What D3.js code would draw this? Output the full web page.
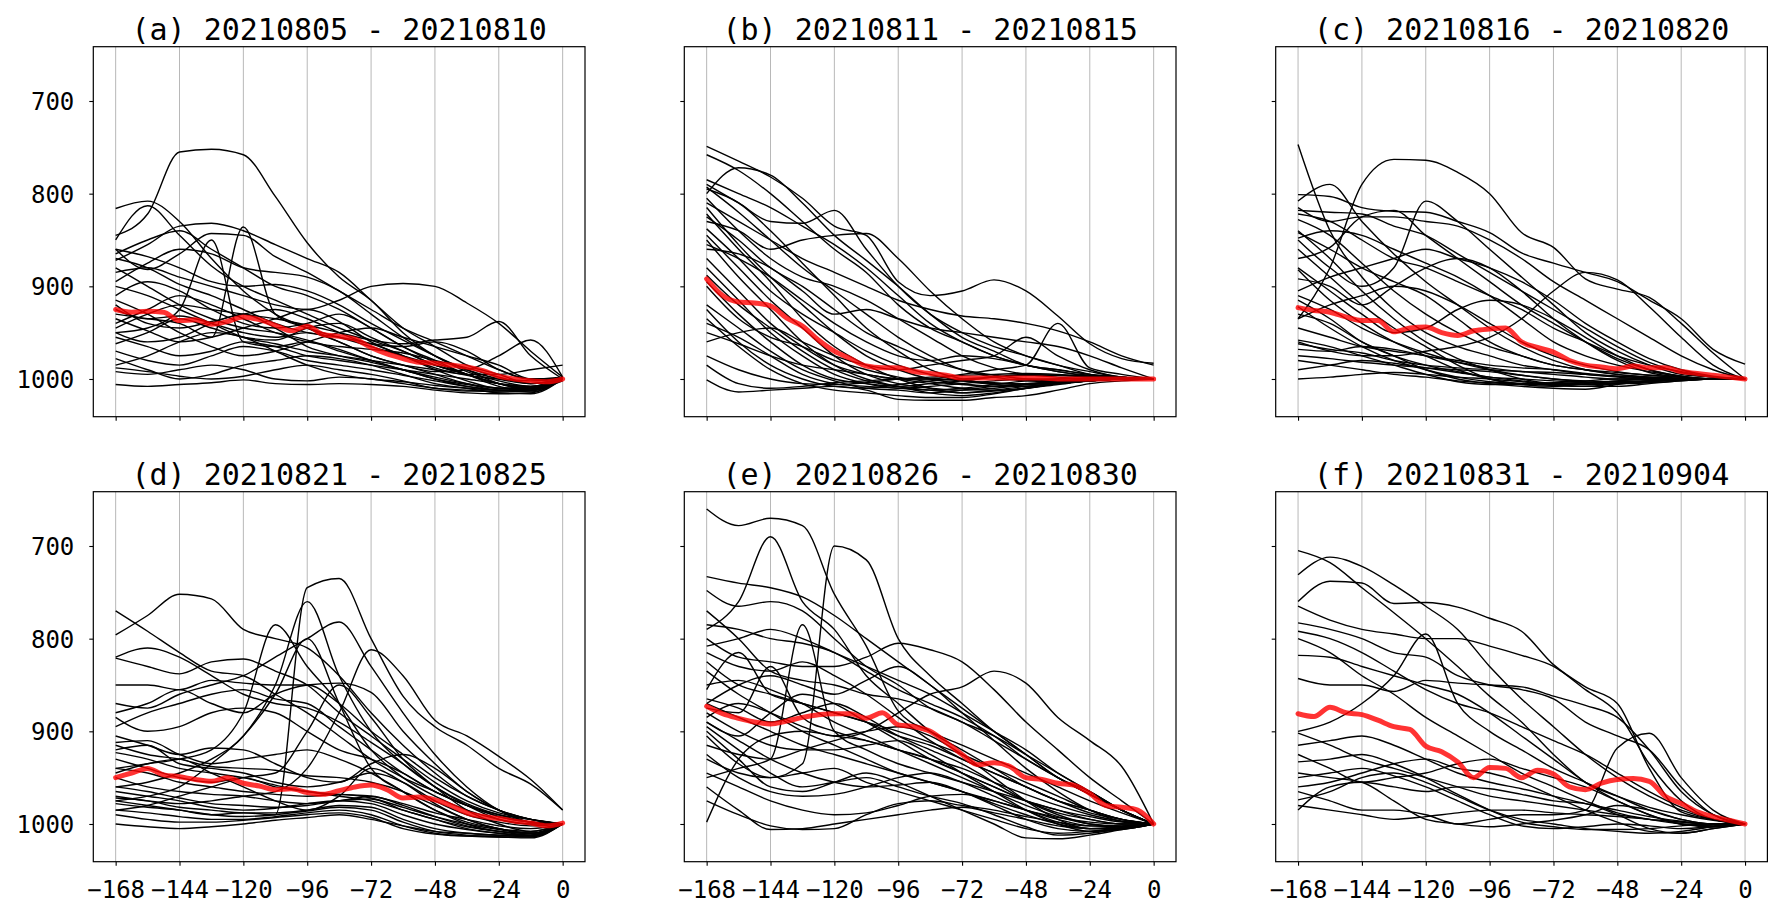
<!DOCTYPE html>
<html><head><meta charset="utf-8">
<script src="https://cdn.jsdelivr.net/npm/d3@7"></script>
<style>
body{margin:0;background:#fff}
svg{display:block}
text{font-family:"DejaVu Sans Mono",monospace;fill:#000}
</style>
</head><body>
<svg id="chart" width="1786" height="917"></svg>
<script>
// ---------- data ----------
const hours = d3.range(-168, 1, 12);      // black lines sampled every 12 h
const redHours = d3.range(-168, 1, 6);    // mean (red) line sampled every 6 h
const xTicks = [-168, -144, -120, -96, -72, -48, -24, 0];
const yTicks = [700, 800, 900, 1000];
const titles = ["(a) 20210805 - 20210810", "(b) 20210811 - 20210815", "(c) 20210816 - 20210820",
                "(d) 20210821 - 20210825", "(e) 20210826 - 20210830", "(f) 20210831 - 20210904"];

const linesA = [
[845,822,755,752,758,803,853,890,915,950,975,990,1005,1012,1000],
[816,808,830,870,905,930,945,960,975,985,995,1005,1012,1012,1000],
[850,813,845,878,900,915,930,945,958,970,985,995,1005,1010,1000],
[872,855,835,832,840,855,870,885,915,945,965,985,995,1005,1000],
[860,882,865,843,845,868,885,905,925,945,960,975,990,1000,1000],
[930,935,940,955,836,930,945,955,965,975,985,995,1005,1008,1000],
[950,945,925,850,960,965,960,970,980,990,998,1005,1010,1010,998],
[885,880,890,900,910,920,925,915,900,897,900,918,940,970,998],
[1006,1008,1006,1004,1001,1005,1006,1005,1006,1008,1012,1015,1016,1015,1000],
[988,992,997,1000,997,990,985,990,995,1002,1010,1012,1014,1013,1000],
[992,995,990,985,990,1000,1002,998,1000,1005,1010,1013,1013,1012,1002],
[870,880,898,910,925,940,950,955,962,975,990,1002,1010,1010,1000],
[880,900,920,935,945,950,958,968,980,990,1000,1008,1012,1012,1000],
[860,868,880,895,900,898,905,920,940,958,975,990,1000,1005,1000],
[895,875,860,865,880,885,890,905,930,955,975,992,1002,1008,1000],
[940,925,910,920,935,950,960,965,968,972,980,988,998,1005,1000],
[915,930,950,965,975,970,960,950,945,955,965,975,985,1000,998],
[920,940,945,938,930,925,935,950,962,965,960,970,990,1000,1000],
[955,965,975,970,960,965,975,980,985,990,995,1000,1005,1008,1000],
[962,950,935,945,955,958,945,940,955,970,985,995,1005,1010,1000],
[970,980,985,975,965,970,980,985,990,996,1002,1008,1012,1014,1000],
[978,990,1000,995,985,980,975,978,985,995,1005,1010,1015,1016,1000],
[900,910,925,940,955,962,970,975,980,985,990,995,995,990,985],
[935,948,960,955,945,935,925,938,960,975,988,996,1000,1002,1000],
[945,930,920,925,930,935,942,950,958,962,958,955,938,975,1000],
[925,935,932,940,950,955,950,960,975,985,992,990,975,958,998],
[865,850,840,860,880,900,910,925,945,965,980,995,1005,1010,1000],
[985,975,960,950,955,970,985,995,1000,1003,1007,1010,1012,1010,1000],
[910,895,905,925,940,945,940,930,945,965,982,995,1008,1012,1000],
[950,960,955,940,930,945,965,975,982,990,1000,1006,1010,1012,1000]
];
const redA = [925,928,927,928,937,936,941,938,933,936,942,948,943,952,954,957,966,973,978,982,983,985,987,991,997,1000,1002,1003,1000];

const linesB = [
[749,765,782,805,835,845,895,910,905,893,905,932,962,978,983],
[758,775,800,830,860,885,920,945,960,975,985,990,995,998,1000],
[800,772,780,810,845,872,900,930,955,970,985,990,995,998,1000],
[790,810,830,832,818,860,900,930,950,965,975,985,995,998,1000],
[830,840,860,850,845,843,870,905,935,960,975,985,992,998,1000],
[810,830,850,870,885,900,915,925,932,935,940,948,960,975,985],
[950,962,975,985,990,995,1000,1000,995,990,985,940,988,995,1000],
[960,950,945,960,975,985,990,985,980,975,955,975,990,998,1000],
[1001,1014,1012,1010,1008,1012,1022,1023,1023,1020,1018,1012,1005,1002,1000],
[785,800,815,835,855,880,910,940,960,975,985,992,997,1000,1000],
[793,820,850,880,905,930,955,975,990,998,1002,1003,1002,1000,1000],
[795,810,840,875,910,945,970,990,1000,1005,1005,1003,1000,1000,1000],
[805,840,870,890,900,915,935,955,975,988,995,998,1000,1000,1000],
[815,855,890,920,950,975,990,1000,1005,1008,1006,1003,1000,1000,1000],
[822,860,895,935,965,985,1000,1010,1015,1012,1008,1004,1001,1000,1000],
[825,850,880,900,925,950,965,980,990,996,1000,1002,1002,1000,1000],
[838,870,905,930,950,970,985,995,1002,1006,1008,1005,1002,1000,1000],
[845,880,915,945,975,995,1005,1010,1012,1010,1006,1003,1001,1000,1000],
[850,890,925,960,985,1000,1008,1015,1018,1015,1010,1005,1002,1000,1000],
[855,870,890,915,940,960,975,980,975,978,985,992,996,998,1000],
[870,905,940,965,985,995,1000,1005,1010,1012,1010,1006,1002,1000,1000],
[880,915,950,975,995,1005,1010,1008,1005,1002,1000,1000,1000,1000,1000],
[888,920,945,970,990,1002,1008,1012,1015,1013,1010,1005,1002,1000,1000],
[895,930,960,985,1000,1005,1008,1005,1002,998,995,996,998,1000,1000],
[900,935,955,965,980,990,998,1003,1006,1008,1008,1005,1002,1000,1000],
[920,945,970,990,1002,1010,1012,1015,1012,1008,1005,1003,1001,1000,1000],
[925,960,985,1000,1008,1010,1006,1002,1000,998,996,996,998,1000,1000],
[935,965,990,1005,1012,1015,1018,1020,1020,1016,1010,1005,1002,1000,1000],
[940,955,975,995,1005,1008,1010,1012,1010,1006,1002,1000,999,1000,1000],
[975,990,1000,1005,1006,1004,1000,998,996,995,994,995,997,999,1000],
[985,1005,1010,1008,1004,1002,1000,1000,1002,1004,1006,1004,1002,1000,1000],
[860,865,880,905,930,925,935,945,950,955,960,965,975,988,1000]
];
const redB = [892,910,917,918,921,934,943,958,970,978,986,988,988,992,994,996,999,999,999,999,999,999,1000,1000,1000,1000,1000,1000,1000];

const linesC = [
[747,840,890,925,950,965,975,985,990,995,998,1000,1000,1000,1000],
[935,880,790,763,764,777,800,842,858,892,903,912,940,972,1000],
[808,790,830,865,895,920,945,965,980,990,995,998,1000,1000,1000],
[801,803,815,819,820,830,842,864,875,885,895,915,935,968,984],
[850,880,900,880,808,830,860,890,920,950,970,985,995,998,1000],
[870,858,825,818,845,870,895,920,940,960,978,990,997,1000,1000],
[960,970,975,975,970,965,955,935,905,885,893,922,955,985,1000],
[815,830,825,825,830,835,850,870,895,915,935,955,975,990,1000],
[818,820,822,835,845,865,885,905,925,945,965,982,993,998,1000],
[822,830,850,870,880,895,910,925,945,960,975,985,992,998,1000],
[828,845,875,905,930,950,965,975,985,990,995,998,1000,1000,1000],
[840,870,905,935,960,978,990,1000,1005,1006,1005,1003,1001,1000,1000],
[842,860,880,895,910,935,960,975,985,990,993,996,998,1000,1000],
[848,840,845,860,875,890,910,935,960,975,985,992,997,1000,1000],
[860,890,920,945,965,985,1000,1005,1006,1004,1002,1000,1000,1000,1000],
[880,905,930,950,945,925,915,920,935,955,975,990,997,1000,1000],
[882,915,940,960,975,990,1000,1006,1008,1005,1002,1000,1000,1000,1000],
[892,900,920,900,880,870,880,905,935,960,980,993,998,1000,1000],
[910,925,945,960,972,982,990,996,1000,1002,1003,1002,1001,1000,1000],
[915,935,960,975,985,992,998,1000,1002,1004,1005,1004,1002,1000,1000],
[922,945,965,980,990,998,1003,1005,1007,1008,1008,1005,1002,1000,1000],
[930,940,960,975,990,1000,1005,1008,1010,1011,1006,1002,1001,1000,1000],
[945,955,965,970,975,982,988,992,995,998,1000,1000,1000,1000,1000],
[958,965,975,985,995,1003,1006,1006,1005,1004,1003,1002,1001,1000,1000],
[962,968,972,980,985,988,990,992,993,995,997,998,999,1000,1000],
[968,970,965,968,975,980,985,988,990,994,997,999,1000,1000,1000],
[975,978,982,985,988,990,992,996,1000,1003,1005,1003,1001,1000,1000],
[980,985,990,995,998,1002,1004,1005,1004,1002,1000,1000,1000,1000,1000],
[990,985,980,983,988,993,998,1002,1005,1006,1004,1002,1000,1000,1000],
[1000,998,995,993,995,998,1000,1003,1006,1008,1005,1002,1001,1000,1000],
[935,920,910,900,905,920,940,960,975,985,992,996,998,1000,1000],
[905,890,880,870,860,870,880,895,915,940,960,978,990,997,1000]
];
const redC = [923,926,928,933,937,937,949,945,944,950,953,948,946,945,960,966,971,980,985,987,989,986,988,988,992,994,996,998,1000];

const linesD = [
[975,980,985,990,988,990,745,735,800,862,895,915,940,957,985],
[960,955,945,930,905,850,760,840,900,935,960,978,990,998,1000],
[940,935,930,920,880,785,830,870,920,950,970,985,995,1000,1000],
[970,975,978,975,970,965,940,880,812,840,888,905,927,952,985],
[770,792,815,835,840,860,880,905,930,950,965,980,990,995,1000],
[796,775,752,757,790,800,810,840,880,915,945,970,985,995,1000],
[821,830,838,825,822,835,850,880,905,930,955,975,988,995,1000],
[850,850,855,845,848,850,850,870,900,925,950,970,985,995,1000],
[870,875,860,850,840,820,800,782,830,880,925,960,985,998,1000],
[880,870,855,870,880,860,850,848,858,900,935,965,985,995,1000],
[885,900,895,880,875,880,900,920,930,945,965,980,992,998,1000],
[895,880,870,860,855,865,870,895,920,945,965,980,992,998,1000],
[920,915,935,940,945,955,960,955,945,955,975,990,998,1002,1000],
[923,930,940,945,950,958,965,968,970,978,988,995,1002,1005,1000],
[930,940,950,955,950,960,965,970,975,985,995,1003,1008,1010,1000],
[940,945,955,960,965,968,970,968,972,982,992,1000,1006,1010,1000],
[950,960,965,968,970,975,978,975,970,980,992,1002,1008,1012,1000],
[960,965,972,978,980,982,980,975,973,985,995,1005,1010,1012,1000],
[965,970,975,982,985,983,978,975,978,990,1000,1006,1010,1013,1000],
[972,975,982,985,988,988,985,980,982,995,1005,1010,1012,1014,1000],
[978,982,985,990,992,990,986,982,985,998,1008,1012,1014,1015,1000],
[985,988,992,995,995,992,988,985,990,1002,1010,1013,1014,1014,1000],
[990,995,998,998,996,993,990,988,993,1005,1011,1013,1013,1012,1000],
[1000,1003,1005,1003,1000,996,993,990,995,1002,1008,1010,1012,1012,1000],
[912,910,925,935,930,925,920,930,945,965,985,1000,1008,1010,1000],
[915,925,930,938,940,942,948,950,955,965,980,995,1005,1008,1000],
[945,935,930,945,960,975,985,970,940,955,978,995,1005,1010,1000],
[820,810,820,840,860,870,875,890,912,935,960,980,995,1000,1000],
[975,970,960,935,905,860,800,870,940,965,985,998,1005,1010,1000],
[985,980,970,960,950,945,900,850,885,930,960,985,1000,1008,1000],
[905,915,925,918,920,935,950,955,935,925,940,965,985,998,1000]
];
const redD = [950,945,940,947,949,952,954,950,956,959,963,962,966,968,964,960,958,963,972,971,974,980,988,992,994,997,999,1002,999];

const linesE = [
[660,678,670,678,752,808,878,900,915,930,945,960,975,988,1000],
[790,760,690,760,790,840,870,900,920,940,960,975,985,995,1000],
[930,945,950,935,700,715,800,840,870,900,925,950,968,985,1000],
[733,740,745,755,775,800,825,850,875,900,925,950,965,985,1000],
[748,765,760,770,800,830,850,875,890,910,930,950,968,985,1000],
[855,815,860,870,880,890,905,915,930,945,960,975,985,995,1000],
[875,880,830,885,900,910,920,930,940,955,968,980,990,997,1000],
[800,820,825,830,830,820,805,812,825,855,890,920,950,975,1000],
[915,925,930,920,910,900,880,860,852,835,848,885,910,938,1000],
[950,940,930,785,900,920,935,945,955,965,975,985,992,998,1000],
[998,930,905,900,905,910,920,930,945,960,975,985,995,1000,1000],
[770,800,835,845,850,860,865,875,890,905,925,945,965,985,1000],
[785,790,800,805,815,835,855,870,885,905,930,950,968,985,1000],
[808,800,790,800,815,830,845,860,880,900,920,945,965,985,1000],
[815,830,835,825,840,860,885,910,930,945,960,975,988,995,1000],
[825,850,860,870,880,890,900,912,925,940,955,970,985,995,1000],
[835,860,880,900,915,930,945,955,965,975,985,993,998,1000,1000],
[850,845,855,870,890,905,920,935,950,965,980,992,1000,1002,1000],
[865,875,890,880,870,885,905,920,935,955,975,990,1000,1003,1000],
[870,885,900,915,925,935,945,955,965,978,990,1000,1005,1005,1000],
[880,900,915,920,920,915,910,925,945,965,985,1000,1008,1006,1000],
[885,870,880,895,905,900,895,905,925,950,975,995,1005,1005,1000],
[890,910,930,945,955,960,958,955,965,980,995,1005,1008,1005,1000],
[895,920,945,960,955,950,960,970,978,990,1003,1012,1010,1005,1000],
[900,930,960,965,955,945,955,970,985,1000,1015,1016,1012,1006,1000],
[905,935,950,945,940,955,965,975,985,995,1005,1010,1008,1004,1000],
[925,950,965,970,968,960,950,945,955,970,985,998,1005,1004,1000],
[945,960,975,985,990,988,980,970,968,975,985,995,1002,1003,1000],
[960,985,1006,1005,1000,995,990,985,982,988,995,1002,1005,1003,1000],
[975,990,1002,1006,1005,990,978,975,980,985,992,998,1002,1002,1000],
[890,905,880,860,870,890,910,930,945,960,975,988,995,1000,1000],
[870,850,840,850,860,845,830,850,880,910,940,965,985,997,1000]
];
const redE = [873,881,886,890,892,889,885,882,881,881,886,880,893,895,900,912,925,936,934,938,950,952,956,958,967,980,982,985,1000];

const linesF = [
[705,718,745,772,800,830,862,890,925,955,970,982,990,996,1000],
[731,712,722,742,765,790,830,865,895,925,950,970,985,995,1000],
[760,738,740,762,761,766,778,792,828,852,870,940,987,995,1000],
[765,780,790,795,800,800,808,818,830,855,880,935,975,995,1000],
[783,790,800,815,820,840,850,855,865,890,905,920,960,990,1000],
[792,800,815,835,855,870,880,895,910,925,945,965,982,995,1000],
[800,815,840,860,885,905,925,945,960,975,988,995,1000,1002,1000],
[818,820,830,840,850,860,880,905,930,955,975,990,1000,1002,1000],
[843,850,850,857,845,848,850,852,862,872,885,920,965,990,1000],
[900,890,870,840,795,870,900,920,940,955,970,985,995,1000,1000],
[902,915,930,940,950,960,970,975,980,985,990,995,998,1000,1000],
[915,910,905,915,930,945,955,962,970,978,985,992,997,1000,1000],
[933,930,925,935,950,968,985,998,1003,1006,1006,1005,1002,1000,1000],
[950,945,940,948,960,975,990,1002,1005,1003,1000,1002,1005,1003,1000],
[965,975,985,985,990,1000,995,990,990,985,918,902,950,985,1000],
[974,965,950,945,955,970,985,995,1000,1005,1008,1010,1008,1003,1000],
[985,960,955,960,965,960,962,968,975,978,990,1005,1010,1005,1000],
[945,950,955,975,995,1000,1003,1000,996,990,980,985,995,1000,1000],
[925,940,955,950,945,935,930,940,950,960,975,990,1000,1003,1000],
[960,955,945,935,930,940,945,955,970,985,998,1008,1010,1005,1000],
[980,985,990,995,992,988,985,985,988,990,992,995,998,1000,1000]
];
const redF = [881,884,874,880,882,888,895,898,916,922,933,950,939,940,950,942,946,960,963,956,952,951,954,970,978,987,992,996,1000];

const blackSets = [linesA, linesB, linesC, linesD, linesE, linesF];
const redSets = [redA, redB, redC, redD, redE, redF];

// ---------- layout ----------
const W = 491.7, H = 370;
const lefts = [93.3, 684.3, 1275.7];
const tops = [46.7, 491.7];

const svg = d3.select("#chart");
svg.append("rect").attr("width", 1786).attr("height", 917).attr("fill", "#fff");

const x = d3.scaleLinear().domain([-176.4, 8.4]).range([0, W]);
const y = d3.scaleLinear().domain([641.4, 1040.7]).range([0, H]);

const fmt = t => t < 0 ? "\u2212" + (-t) : String(t);

const blackLine = d3.line().x((d, j) => x(hours[j])).y(d => y(d)).curve(d3.curveMonotoneX);
const redLine = d3.line().x((d, j) => x(redHours[j])).y(d => y(d)).curve(d3.curveMonotoneX);

titles.forEach((title, i) => {
  const col = i % 3, row = Math.floor(i / 3);
  const g = svg.append("g").attr("transform", `translate(${lefts[col]},${tops[row]})`);

  // vertical grid
  g.append("g").selectAll("line").data(xTicks).join("line")
    .attr("x1", d => x(d)).attr("x2", d => x(d))
    .attr("y1", 0).attr("y2", H)
    .attr("stroke", "#b0b0b0").attr("stroke-width", 0.9);

  // black lines
  g.append("g").selectAll("path").data(blackSets[i]).join("path")
    .attr("d", blackLine)
    .attr("fill", "none").attr("stroke", "#000").attr("stroke-width", 1.4)
    .attr("stroke-linejoin", "round");

  // red mean line
  g.append("path").datum(redSets[i]).attr("d", redLine)
    .attr("fill", "none").attr("stroke", "#ff0000").attr("stroke-opacity", 0.8)
    .attr("stroke-width", 5).attr("stroke-linejoin", "round").attr("stroke-linecap", "round");

  // frame
  g.append("rect").attr("width", W).attr("height", H)
    .attr("fill", "none").attr("stroke", "#000").attr("stroke-width", 1.2);

  // x axis
  const xa = g.append("g").attr("transform", `translate(0,${H})`)
    .call(d3.axisBottom(x).tickValues(xTicks).tickSize(4).tickFormat(row === 1 ? fmt : () => ""));
  xa.select(".domain").remove();
  xa.selectAll(".tick line").attr("stroke", "#000").attr("stroke-width", 1.1);
  xa.selectAll("text").attr("y", 36).attr("dy", 0)
    .style("font-size", "24px").style("font-family", "'DejaVu Sans Mono', monospace").attr("fill", "#000");

  // y axis
  const ya = g.append("g")
    .call(d3.axisLeft(y).tickValues(yTicks).tickSize(4).tickFormat(col === 0 ? fmt : () => ""));
  ya.select(".domain").remove();
  ya.selectAll(".tick line").attr("stroke", "#000").attr("stroke-width", 1.1);
  ya.selectAll("text").attr("x", -19).attr("dy", "0.36em")
    .style("font-size", "24px").style("font-family", "'DejaVu Sans Mono', monospace").attr("fill", "#000");

  // title
  g.append("text").attr("x", W / 2).attr("y", -7)
    .attr("text-anchor", "middle").style("font-size", "30px").text(title);
});
</script>
</body></html>
